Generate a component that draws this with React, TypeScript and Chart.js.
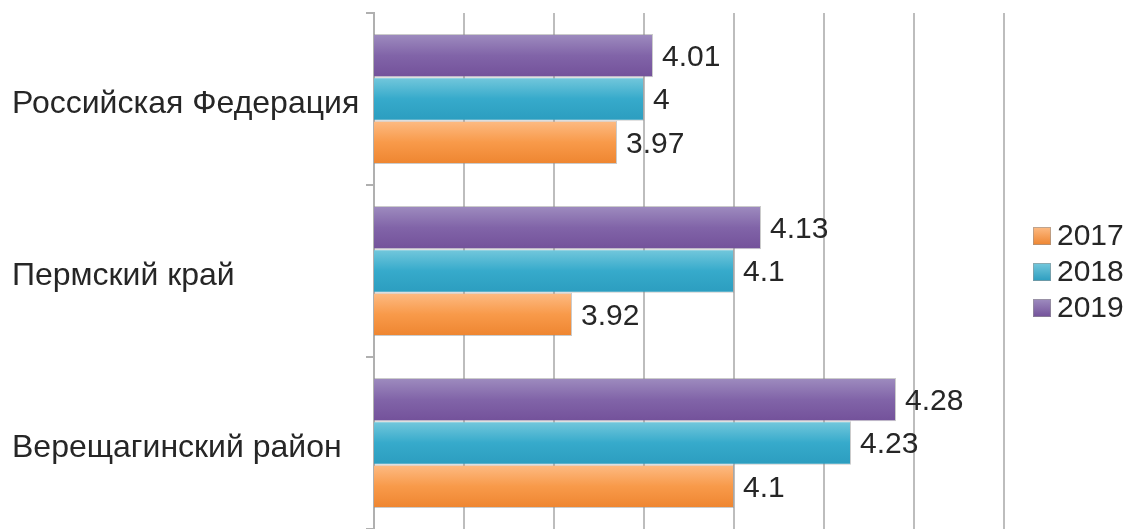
import React, { useEffect, useRef } from "react";
import { Chart, registerables } from "chart.js";

Chart.register(...registerables);

const categories = ["Российская Федерация", "Пермский край", "Верещагинский район"];
const seriesNames = ["2017", "2018", "2019"];
const values2017 = [3.97, 3.92, 4.1];
const values2018 = [4, 4.1, 4.23];
const values2019 = [4.01, 4.13, 4.28];
const axisMin = 3.7;
const axisMax = 4.4;
const axisStep = 0.1;

const FONT_FAMILY = "'Liberation Sans', Arial, sans-serif";
const FONT_SIZE = 30;
const CAT_FONT_SIZE = 32;
const TEXT_COLOR = "#262626";

const palettes: Record<string, string[]> = {
  "2017": ["#fdbb84", "#f89a4a", "#ee8530"],
  "2018": ["#74c8dc", "#36aacb", "#2c9dbf"],
  "2019": ["#9e8cbf", "#8164a8", "#73519a"],
};

function gradientFill(name: string) {
  return (ctx: any) => {
    const el = ctx.element;
    const cols = palettes[name];
    if (!el || !Number.isFinite(el.y) || !Number.isFinite(el.height)) return cols[1];
    const c = ctx.chart.ctx as CanvasRenderingContext2D;
    const top = el.y - el.height / 2;
    const bottom = el.y + el.height / 2;
    const g = c.createLinearGradient(0, top, 0, bottom);
    g.addColorStop(0, cols[0]);
    g.addColorStop(0.5, cols[1]);
    g.addColorStop(1, cols[2]);
    return g;
  };
}

const valueLabels = {
  id: "valueLabels",
  afterDatasetsDraw(chart: any) {
    const c = chart.ctx as CanvasRenderingContext2D;
    c.save();
    c.font = `${FONT_SIZE}px ${FONT_FAMILY}`;
    c.fillStyle = TEXT_COLOR;
    c.textAlign = "left";
    c.textBaseline = "middle";
    chart.data.datasets.forEach((ds: any, di: number) => {
      const meta = chart.getDatasetMeta(di);
      meta.data.forEach((el: any, i: number) => {
        c.fillText(String(ds.data[i]), el.x + 9, el.y + 2);
      });
    });
    c.restore();
  },
};

const sideLegend = {
  id: "sideLegend",
  afterDraw(chart: any) {
    const c = chart.ctx as CanvasRenderingContext2D;
    c.save();
    c.font = `${FONT_SIZE}px ${FONT_FAMILY}`;
    c.textBaseline = "middle";
    c.textAlign = "left";
    const x0 = 1033;
    const yStart = 236;
    const gap = 36;
    const box = 18;
    seriesNames.forEach((name, i) => {
      const cy = yStart + i * gap;
      const cols = palettes[name];
      const g = c.createLinearGradient(0, cy - box / 2, 0, cy + box / 2);
      g.addColorStop(0, cols[0]);
      g.addColorStop(1, cols[2]);
      c.fillStyle = g;
      c.fillRect(x0, cy - box / 2, box, box);
      c.strokeStyle = "rgba(150,150,150,0.6)";
      c.lineWidth = 1;
      c.strokeRect(x0 + 0.5, cy - box / 2 + 0.5, box - 1, box - 1);
      c.fillStyle = TEXT_COLOR;
      c.fillText(name, x0 + box + 6, cy + 1);
    });
    c.restore();
  },
};

export default function App() {
  const ref = useRef<HTMLCanvasElement | null>(null);

  useEffect(() => {
    if (!ref.current) return;
    const seriesData: Record<string, number[]> = {
      "2017": values2017,
      "2018": values2018,
      "2019": values2019,
    };
    const order = ["2019", "2018", "2017"];
    const chart = new Chart(ref.current, {
      type: "bar",
      data: {
        labels: categories,
        datasets: order.map((name) => ({
          label: name,
          data: seriesData[name],
          backgroundColor: gradientFill(name),
          borderColor: "rgba(140,140,140,0.45)",
          borderWidth: 1,
          categoryPercentage: 0.756,
          barPercentage: 1,
        })),
      },
      options: {
        indexAxis: "y",
        animation: false,
        responsive: true,
        maintainAspectRatio: false,
        layout: { padding: { top: 13, right: 128, left: 12, bottom: 0 } },
        plugins: {
          legend: { display: false },
          tooltip: { enabled: false },
        },
        scales: {
          x: {
            min: axisMin,
            max: axisMax,
            ticks: { display: false, stepSize: axisStep },
            grid: { color: "#bdbdbd", lineWidth: 2, drawTicks: false },
            border: { display: false },
            afterFit(s: any) {
              s.height = 0;
              s.paddingLeft = 0;
              s.paddingRight = 0;
            },
          },
          y: {
            grid: {
              display: true,
              drawOnChartArea: false,
              offset: true,
              tickLength: 8,
              color: "#b0b0b0",
              lineWidth: 2,
            },
            border: { display: true, color: "#b0b0b0", width: 2 },
            ticks: {
              padding: 6,
              crossAlign: "far",
              labelOffset: 5,
              color: TEXT_COLOR,
              font: { family: FONT_FAMILY, size: CAT_FONT_SIZE },
            },
            afterFit(s: any) {
              s.width = 362;
              s.paddingTop = 0;
              s.paddingBottom = 0;
            },
          },
        },
      },
      plugins: [valueLabels, sideLegend],
    });
    chart.update();
    return () => chart.destroy();
  }, []);

  return (
    <div style={{ position: "fixed", left: 0, top: 0, width: 1132, height: 529, background: "#fff" }}>
      <canvas ref={ref} />
    </div>
  );
}
